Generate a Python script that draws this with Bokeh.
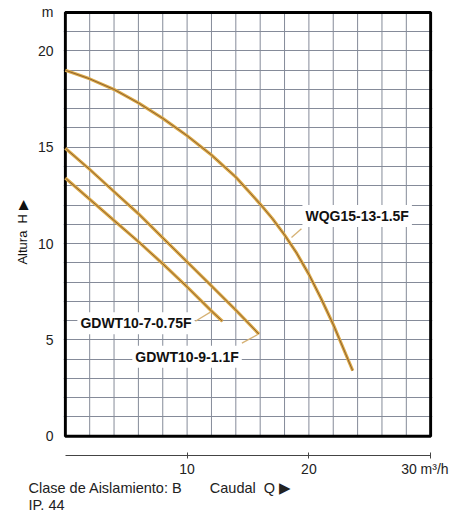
from bokeh.plotting import figure
from bokeh.models import Range1d, FixedTicker, Label, Title
from bokeh.embed import file_html
from bokeh.resources import INLINE

# ---------------- data ----------------
wqg_q = [0, 2, 4, 6, 8, 10, 12, 14, 16, 17, 18, 19, 20, 21, 22, 23, 23.6]
wqg_h = [19.0, 18.55, 18.0, 17.3, 16.5, 15.6, 14.6, 13.45, 12.05, 11.3, 10.45,
         9.5, 8.4, 7.15, 5.8, 4.3, 3.4]

g9_q = [0, 2, 4, 6, 8, 10, 12, 14, 15.9]
g9_h = [14.95, 13.85, 12.7, 11.55, 10.3, 9.05, 7.8, 6.55, 5.3]

g7_q = [0, 2, 4, 6, 8, 10, 12, 12.9]
g7_h = [13.4, 12.3, 11.2, 10.1, 8.95, 7.75, 6.5, 5.97]

curve_names = ["WQG15-13-1.5F", "GDWT10-7-0.75F", "GDWT10-9-1.1F"]
name_q = [19.47, 0.99, 5.5]
name_h = [11.43, 5.87, 4.13]
ptr_q0 = [18.57, 10.68, 14.5]
ptr_h0 = [10.31, 5.97, 4.83]
ptr_q1 = [19.39, 11.91, 15.75]
ptr_h1 = [10.77, 6.44, 5.26]

q_ticks = [10, 20, 30]
q_tick_labels = ["10", "20", "30 m\u00b3/h\u00a0"]
h_ticks = [0, 5, 10, 15, 20, 22]
h_tick_labels = ["0", "5", "10", "15", "20", "m"]
q_grid = list(range(0, 31, 2))
h_grid = list(range(1, 22))
q_lim = [0, 30]
h_lim = [0, 22]

x_title = "Caudal\u00a0\u00a0Q\u00a0\u25b6"
y_title = "Altura\u00a0\u00a0H\u00a0\u25b6"
note_lines = ["Clase de Aislamiento: B", "IP. 44"]

FONT = "Liberation Sans"

p = figure(width=452, height=513,
           x_range=Range1d(-0.15, 30.15), y_range=Range1d(-1, 22.15),
           output_backend="svg", toolbar_location=None,
           min_border_left=63, min_border_right=20,
           min_border_top=9, min_border_bottom=40)
p.outline_line_color = None
p.background_fill_color = "white"
p.border_fill_color = "white"

# grid
p.xgrid.visible = False
p.ygrid.ticker = FixedTicker(ticks=h_grid)
p.ygrid.grid_line_color = "#858b99"
p.ygrid.grid_line_width = 1
n = len(q_grid)
p.segment(x0=q_grid, y0=[h_lim[0]] * n, x1=q_grid, y1=[h_lim[1]] * n,
          line_color="#858b99", line_width=1)

# frame
p.quad(left=q_lim[0], right=q_lim[1], bottom=h_lim[0], top=h_lim[1],
       fill_color=None, line_color="black", line_width=3)

# curves
for q, h in [(wqg_q, wqg_h), (g9_q, g9_h), (g7_q, g7_h)]:
    p.line(q, h, line_color="#dcaa48", line_width=3.2, line_join="round")
    p.line(q, h, line_color="#7a4f2a", line_width=1.0, line_alpha=0.8,
           line_join="round")

# pointers
p.segment(x0=ptr_q0, y0=ptr_h0, x1=ptr_q1, y1=ptr_h1,
          line_color="#d6b275", line_width=1.3)

# curve names
for t, lq, lh in zip(curve_names, name_q, name_h):
    p.add_layout(Label(x=lq, y=lh, text=t, text_font=FONT, text_font_style="bold",
                       text_font_size="14px", text_color="#111111",
                       text_align="left", text_baseline="middle",
                       background_fill_color="white", padding=3))

# axes
xa = p.xaxis[0]
xa.ticker = FixedTicker(ticks=q_ticks)
xa.major_label_overrides = {k: v for k, v in zip(q_ticks, q_tick_labels)}
xa.bounds = (q_lim[0], q_lim[1])
xa.minor_tick_line_color = None
xa.major_tick_in = 3
xa.major_tick_out = 3
xa.axis_line_color = "#444444"
xa.major_tick_line_color = "#444444"
xa.major_label_standoff = 2
xa.major_label_text_font = FONT
xa.major_label_text_font_size = "14px"
xa.major_label_text_color = "#222222"

ya = p.yaxis[0]
ya.ticker = FixedTicker(ticks=h_ticks)
ya.major_label_overrides = {k: v for k, v in zip(h_ticks, h_tick_labels)}
ya.axis_line_color = None
ya.major_tick_line_color = None
ya.minor_tick_line_color = None
ya.major_tick_in = 0
ya.major_tick_out = 0
ya.major_label_standoff = 10
ya.major_label_text_font = FONT
ya.major_label_text_font_size = "14px"
ya.major_label_text_color = "#222222"
ya.axis_label = y_title
ya.axis_label_text_font = FONT
ya.axis_label_text_font_style = "normal"
ya.axis_label_text_font_size = "13px"
ya.axis_label_text_color = "#111111"
ya.axis_label_standoff = 5

# bottom text rows (axis title shares the first row with the insulation note)
row1 = note_lines[0] + "\u00a0" * 7 + x_title
p.add_layout(Title(text=row1, align="left", offset=-35, standoff=-3,
                   text_font=FONT, text_font_style="normal", text_font_size="14.5px",
                   text_color="#222222"), "below")
p.add_layout(Title(text=note_lines[1], align="left", offset=-35, standoff=1,
                   text_font=FONT, text_font_style="normal", text_font_size="14.5px",
                   text_color="#222222"), "below")

open("out.html", "w").write(file_html(p, INLINE))
